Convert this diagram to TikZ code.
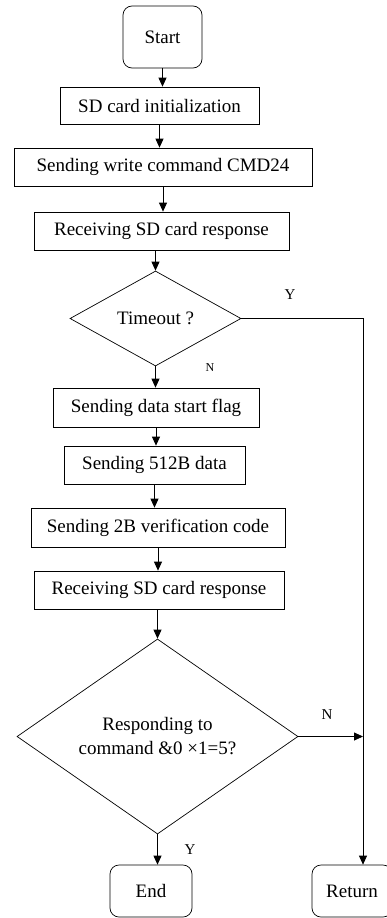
\documentclass[tikz,border=0pt]{standalone}
\usepackage{fontspec}
\setmainfont{Liberation Serif}
\usepackage{tikz}
\usetikzlibrary{positioning, arrows.meta, shapes.geometric}

\begin{document}
\begin{tikzpicture}[
  x=1pt, y=-1pt,
  box/.style={draw, line width=0.7pt, align=center, inner sep=0pt, minimum height=38pt, font=\fontsize{19}{23}\selectfont},
  term/.style={box, rounded corners=9pt},
  decision/.style={draw, diamond, line width=0.7pt, align=center, inner sep=0pt, font=\fontsize{19}{24}\selectfont},
  arrow/.style={-{Triangle[width=8pt, length=9pt]}, line width=0.8pt},
  lbl/.style={font=\fontsize{15}{18}\selectfont}
]
\useasboundingbox (0,0) rectangle (386,918);

% Nodes
\node[term, minimum width=79pt, minimum height=62pt] (start) at (162.5,37) {Start};
\node[box, minimum width=199pt, minimum height=37pt] (init) at (159.5,105.5) {SD card initialization};
\node[box, minimum width=298pt] (cmd) at (163,167) {Sending write command CMD24};
\node[box, minimum width=255pt] (recv1) at (161.5,231) {Receiving SD card response};
\node[decision, minimum width=171pt, minimum height=95pt] (tmo) at (155.5,318.5) {Timeout ?};
\node[box, minimum width=206pt, minimum height=39pt] (flag) at (156,407.5) {Sending data start flag};
\node[box, minimum width=181pt] (data) at (154.5,465) {Sending 512B data};
\node[box, minimum width=254pt, minimum height=39pt] (verify) at (158,527.5) {Sending 2B verification code};
\node[box, minimum width=250pt] (recv2) at (159,590) {Receiving SD card response};
\node[decision, minimum width=281pt, minimum height=193pt] (resp) at (157.5,736.5) {Responding to\\command \&0 ×1=5?};
\node[term, minimum width=82pt, minimum height=52pt] (finish) at (151,891) {End};
\node[term, minimum width=80pt, minimum height=52pt] (ret) at (352,891) {Return};
\coordinate (rail) at (363,318);

% Arrows
\draw[arrow] (start) -- (start |- init.north);
\draw[arrow] (init) -- (init |- cmd.north);
\draw[arrow] (cmd) -- (cmd |- recv1.north);
\draw[arrow] (tmo |- recv1.south) -- (tmo);
\draw[arrow] (tmo) -- (tmo |- flag.north);
\draw[arrow] (flag) -- (flag |- data.north);
\draw[arrow] (data) -- (data |- verify.north);
\draw[arrow] (verify) -- (verify |- recv2.north);
\draw[arrow] (resp |- recv2.south) -- (resp);
\draw[arrow] (resp) -- (resp |- finish.north);

% Timeout branch to Return
\draw[arrow] (tmo.east) -- (tmo.east -| rail) -- (rail |- ret.north);
\draw[arrow] (resp.east) -- (resp.east -| rail);

% Labels
\node[lbl] (ytmo) at (290,295) {Y};
\node[lbl, font=\fontsize{12}{14}\selectfont] (ntmo) at (210,368) {N};
\node[lbl] (nresp) at (327,715) {N};
\node[lbl] (yresp) at (190,850) {Y};

\end{tikzpicture}
\end{document}
